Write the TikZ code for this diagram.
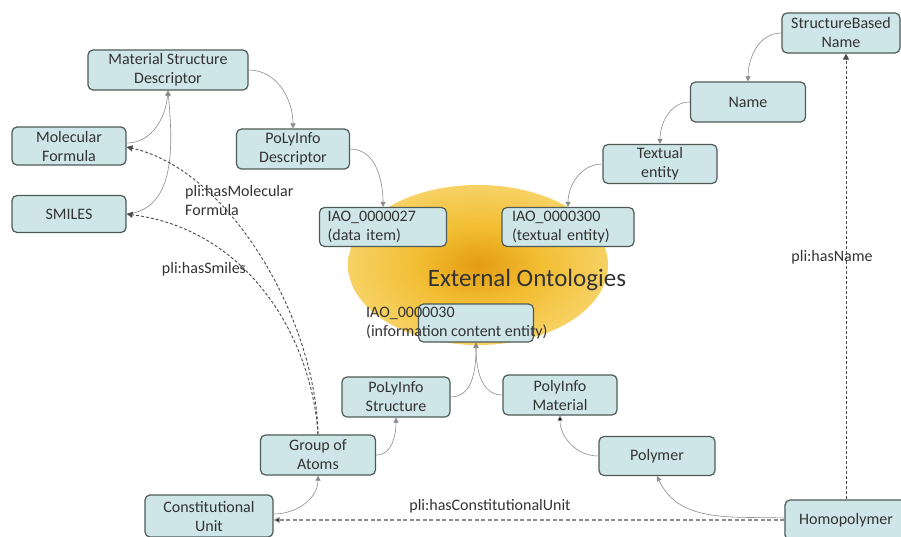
\documentclass[tikz,border=0pt]{standalone}
\usepackage{fontspec}
\setmainfont{Carlito}
\usetikzlibrary{arrows.meta}
\definecolor{boxfill}{HTML}{CFE6E8}
\definecolor{boxline}{HTML}{4E5A58}
\definecolor{txt}{HTML}{333333}
\definecolor{edgegray}{HTML}{8C8C8C}
\definecolor{glowc}{HTML}{E39C12}
\definecolor{glowm}{HTML}{F2BE33}
\definecolor{glowo}{HTML}{FADF86}
\pgfdeclareradialshading{glow}{\pgfpoint{0bp}{0bp}}{color(0bp)=(glowc); color(12bp)=(glowm); color(34bp)=(glowo); color(50bp)=(white)}
\tikzset{
  box/.style={draw=boxline, fill=boxfill, rounded corners=5pt, line width=1.2pt, text=txt, align=center,
    font=\fontsize{16}{19}\selectfont, inner sep=2pt},
  lab/.style={text=txt, font=\fontsize{16}{19}\selectfont, inner sep=0pt, align=left},
  isa/.style={-{Triangle[length=5pt,width=5pt]}, draw=edgegray, line width=0.6pt},
  isab/.style={-{Triangle[length=5pt,width=5pt,fill=black]}, draw=edgegray, line width=0.6pt},
  rel/.style={-{Triangle[length=6pt,width=6pt]}, draw=black!70, dash pattern=on 3pt off 2pt, line width=0.9pt},
  relg/.style={-{Triangle[length=6pt,width=6pt,fill=black]}, draw=black!45, dash pattern=on 4pt off 2.5pt, line width=1.1pt}
}
\begin{document}
\begin{tikzpicture}[x=1pt,y=-1pt]
\clip (0,0) rectangle (901,536);
\fill[white] (0,0) rectangle (901,536);
% glow
\shade[shading=glow] (478,265) ellipse [x radius=130, y radius=80];

% nodes
\node[box, minimum width=160pt, minimum height=40pt] (msd) at (168,70) {Material Structure\\Descriptor};
\node[box, minimum width=114pt, minimum height=38pt] (mf) at (69,146) {Molecular\\Formula};
\node[box, minimum width=114pt, minimum height=37pt] (smiles) at (69,214) {SMILES};
\node[box, minimum width=113pt, minimum height=40pt] (pd) at (293,149) {PoLyInfo\\Descriptor};
\node[box, minimum width=127pt, minimum height=39pt, align=left, text width=111pt, inner xsep=8pt] (iao27) at (383,227) {IAO\_0000027\\(data item)};
\node[box, minimum width=132pt, minimum height=39pt, align=left, text width=112pt, inner xsep=10pt] (iao300) at (568,227) {IAO\_0000300\\(textual entity)};
\node[box, minimum width=114pt, minimum height=39pt] (te) at (660,164) {Textual\\entity};
\node[box, minimum width=115pt, minimum height=40pt] (name) at (748,102) {Name};
\node[box, minimum width=118pt, minimum height=40pt] (sbn) at (841,33) {StructureBased\\Name};
\node[box, minimum width=115pt, minimum height=38pt] (iao30) at (476,323) {};
\node[lab, anchor=west] (iao30t) at (366,323) {IAO\_0000030\\(information content entity)};
\node[text=txt, font=\fontsize{25}{30}\selectfont, inner sep=0pt] (ext) at (527,280) {External Ontologies};
\node[box, minimum width=108pt, minimum height=40pt] (ps) at (396,397) {PoLyInfo\\Structure};
\node[box, minimum width=115pt, minimum height=40pt] (ga) at (318,455) {Group of\\Atoms};
\node[box, minimum width=128pt, minimum height=42pt] (cu) at (209,516) {Constitutional\\Unit};
\node[box, minimum width=114pt, minimum height=40pt] (pm) at (560,395) {PolyInfo\\Material};
\node[box, minimum width=116pt, minimum height=39pt] (poly) at (657,456) {Polymer};
\node[box, minimum width=122pt, minimum height=40pt] (homo) at (846,520) {Homopolymer};

% subclass edges
\draw[isa] (msd.east) to[out=0,in=90] (pd.north);
\draw[isa] (pd.east) to[out=0,in=90] (iao27.north);
\draw[isa] (sbn.west) to[out=180,in=90] (name.north);
\draw[isa] (name.west) to[out=180,in=90] (te.north);
\draw[isa] (te.west) to[out=180,in=90] (iao300.north);
\draw[isa] ([yshift=3pt]mf.east) to[out=0,in=-95] (msd.south);
\draw[isa] (smiles.east) to[out=5,in=-85] (msd.south);
\draw[isa] (ps.east) to[out=0,in=-90] (iao30.south);
\draw[isa] (pm.west) to[out=180,in=-90] (iao30.south);
\draw[isa] (ga.east) to[out=0,in=-90] (ps.south);
\draw[isa] ([yshift=2pt]cu.east) to[out=0,in=-90] (ga.south);
\draw[isab] (poly.west) to[out=180,in=-90] (pm.south);
\draw[isa] ([yshift=2pt]homo.west) to[out=178,in=-65] (poly.south);

% relations
\draw[rel] (ga.north) .. controls (316,320) and (230,170) .. ([yshift=-1pt]mf.east);
\draw[rel] (ga.north) .. controls (312,340) and (250,230) .. (smiles.east);
\draw[relg] (homo.west) -- (homo.west -| cu.east);
\draw[rel] (homo.north) -- (homo.north |- sbn.south);

% relation labels
\node[lab, anchor=west] (lmf) at (185,200) {pli:hasMolecular\\Formula};
\node[lab] (lsm) at (204,269) {pli:hasSmiles};
\node[lab] (lname) at (832,257) {pli:hasName};
\node[lab] (lcu) at (490,506) {pli:hasConstitutionalUnit};
\end{tikzpicture}
\end{document}
